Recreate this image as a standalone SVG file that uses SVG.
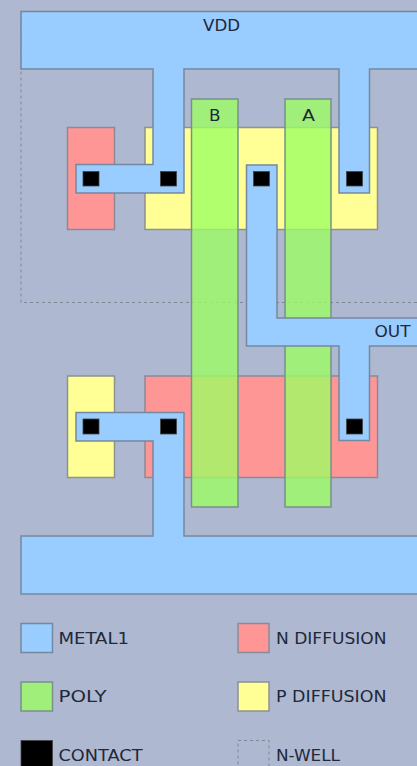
<svg xmlns="http://www.w3.org/2000/svg" width="417" height="766" viewBox="0 0 417 766">
<style>
.m{fill:#99ccff;stroke:#76889f;stroke-width:1.500}
.n{fill:#ff9696;stroke:#8a8a98;stroke-width:1.500}
.p{fill:#ffff96;stroke:#8f9090;stroke-width:1.500}
.g{fill:#9cff63;fill-opacity:.78;stroke:#78908a;stroke-width:1.500}
.c{fill:#000;stroke:#444;stroke-width:.8}
.w{fill:none;stroke:#7f8794;stroke-width:1;stroke-dasharray:3 3}
text{font-family:"DejaVu Sans",sans-serif;font-size:15.500px;fill:#20283a}
</style>
<rect width="417" height="766" fill="#aeb8d0"/>
<g id="nwell"><path class="w" d="M417 302.500H21V11.500H417"/></g>
<g id="diffusion">
<rect class="n" x="67.500" y="127.500" width="47" height="102"/>
<rect class="p" x="145" y="127.500" width="232.500" height="102"/>
<rect class="p" x="67.500" y="376" width="47" height="101.500"/>
<rect class="n" x="145" y="376" width="232.500" height="101.500"/>
</g>
<g id="poly">
<rect class="g" x="191.500" y="99" width="46.500" height="408"/>
<rect class="g" x="285" y="99" width="46" height="408"/>
</g>
<g id="metal">
<path id="vdd" class="m" d="M418 11.500H21V69H153V164.500H76V193H184V69H339V193H369.500V69H418"/>
<path id="out" class="m" d="M418 318H277V165H246.500V346H339V440.500H369.500V346H418"/>
<path id="gnd" class="m" d="M418 594H21V536H153V441H76V412.500H184V536H418"/>
</g>
<g id="contacts">
<rect class="c" x="83" y="171.500" width="16" height="14.500"/>
<rect class="c" x="160.500" y="171.500" width="16" height="14.500"/>
<rect class="c" x="253.500" y="171.500" width="16" height="14.500"/>
<rect class="c" x="346.500" y="171.500" width="16" height="14.500"/>
<rect class="c" x="83" y="419" width="16" height="15"/>
<rect class="c" x="160.500" y="419" width="16" height="15"/>
<rect class="c" x="346.500" y="419" width="16" height="15"/>
</g>
<g id="labels">
<text x="203" y="30.500" textLength="37" lengthAdjust="spacingAndGlyphs">VDD</text>
<text x="209" y="121" textLength="11.500" lengthAdjust="spacingAndGlyphs">B</text>
<text x="302" y="121" textLength="13" lengthAdjust="spacingAndGlyphs">A</text>
<text x="374.500" y="336.500" textLength="36" lengthAdjust="spacingAndGlyphs">OUT</text>
</g>
<g id="legend-metal1"><rect class="m" x="21" y="623.500" width="31.500" height="29"/><text x="58.500" y="644" textLength="70.500" lengthAdjust="spacingAndGlyphs">METAL1</text></g>
<g id="legend-ndiff"><rect class="n" x="238" y="623.500" width="31" height="29"/><text x="276" y="644" textLength="110.500" lengthAdjust="spacingAndGlyphs">N DIFFUSION</text></g>
<g id="legend-poly"><rect class="g" x="21" y="682" width="31.500" height="29"/><text x="58.500" y="702" textLength="48" lengthAdjust="spacingAndGlyphs">POLY</text></g>
<g id="legend-pdiff"><rect class="p" x="238" y="682" width="31" height="29"/><text x="276" y="702" textLength="110.500" lengthAdjust="spacingAndGlyphs">P DIFFUSION</text></g>
<g id="legend-contact"><rect class="c" x="21" y="740.500" width="31.500" height="29"/><text x="58.500" y="760.500" textLength="84" lengthAdjust="spacingAndGlyphs">CONTACT</text></g>
<g id="legend-nwell"><rect class="w" x="238" y="740.500" width="31" height="29"/><text x="276" y="760.500" textLength="64" lengthAdjust="spacingAndGlyphs">N-WELL</text></g>
</svg>
